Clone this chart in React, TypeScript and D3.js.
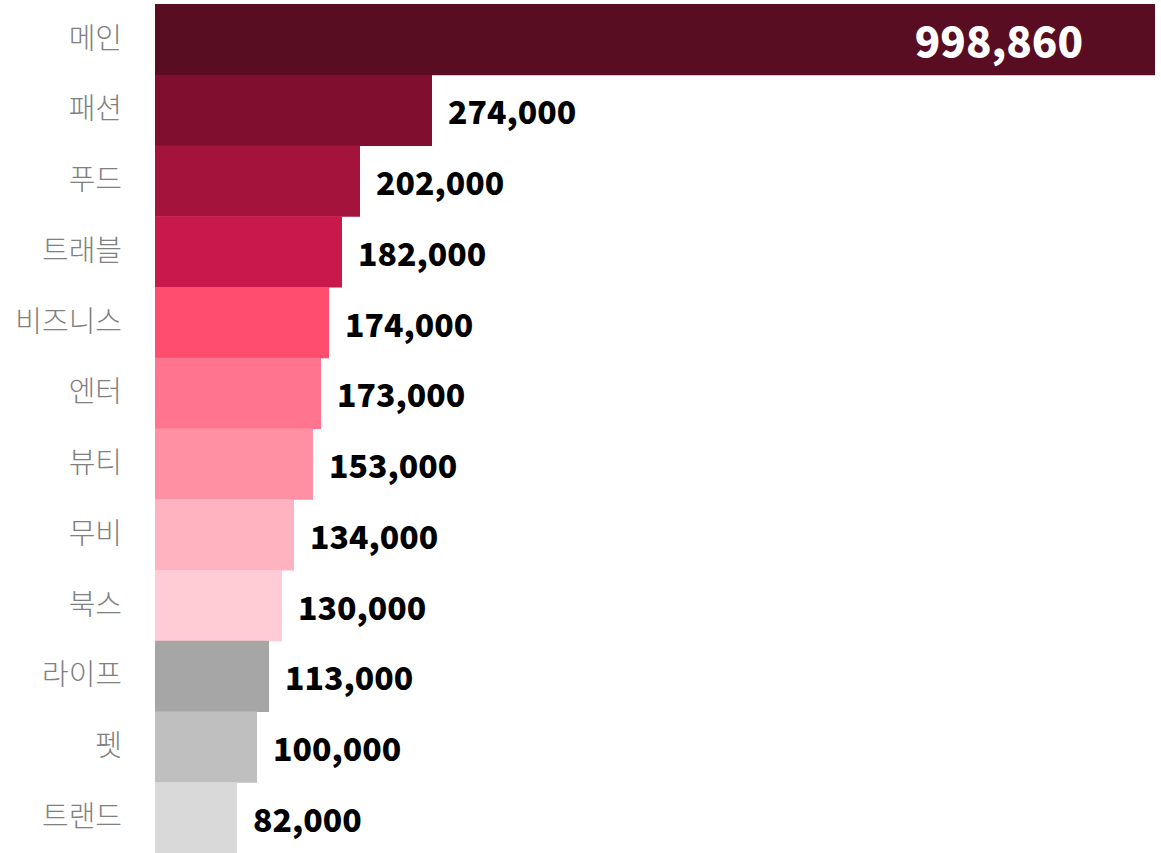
import React, { useEffect, useRef } from "react";
import * as d3 from "d3";

const categories = ["메인", "패션", "푸드", "트래블", "비즈니스", "엔터", "뷰티", "무비", "북스", "라이프", "펫", "트랜드"];
const values = [998860, 274000, 202000, 182000, 174000, 173000, 153000, 134000, 130000, 113000, 100000, 82000];
// bar lengths as drawn in the reference (they differ slightly from the printed labels)
const barValues = [1000000, 277000, 205000, 187000, 174000, 166000, 158000, 139000, 127000, 114000, 102000, 82000];
const colors = ["#590d22", "#800f2f", "#a4133c", "#c9184a", "#ff4d6d", "#ff758f", "#ff8fa3", "#ffb3c1", "#ffccd5", "#a6a6a6", "#bfbfbf", "#d9d9d9"];

const W = 1161;
const H = 853;

export default function App() {
  const ref = useRef<SVGSVGElement>(null);
  useEffect(() => {
    const svg = d3.select(ref.current);
    svg.selectAll("*").remove();
    const x = d3.scaleLinear().domain([0, 1000000]).range([155, 1155]);
    const y = d3.scaleBand<string>().domain(categories).range([4, 853]).padding(0);
    const fmt = d3.format(",");
    const data = categories.map((c, i) => ({ c, v: values[i], b: barValues[i], col: colors[i], i }));

    svg.selectAll("rect.bar").data(data).enter().append("rect")
      .attr("class", "bar")
      .attr("x", x(0))
      .attr("y", (d) => y(d.c)!)
      .attr("width", (d) => x(d.b) - x(0))
      .attr("height", y.bandwidth() + 0.5)
      .attr("fill", (d) => d.col);

    svg.selectAll("text.cat").data(data).enter().append("text")
      .attr("class", "cat")
      .attr("x", 122)
      .attr("y", (d) => y(d.c)! + y.bandwidth() / 2 - 1)
      .attr("dy", "0.35em")
      .attr("text-anchor", "end")
      .attr("font-family", "'Noto Sans CJK KR', 'Noto Sans', sans-serif")
      .attr("font-weight", 200)
      .attr("font-size", 29)
      .attr("fill", "#808080")
      .text((d) => d.c);

    svg.selectAll("text.val").data(data).enter().append("text")
      .attr("class", "val")
      .attr("x", (d) => (d.i === 0 ? x(d.b) - 72 : x(d.b) + 16))
      .attr("y", (d) => y(d.c)! + y.bandwidth() / 2 + 3)
      .attr("dy", "0.35em")
      .attr("text-anchor", (d) => (d.i === 0 ? "end" : "start"))
      .attr("font-family", "'Noto Sans CJK KR', 'Noto Sans', sans-serif")
      .attr("font-weight", 800)
      .attr("font-size", (d) => (d.i === 0 ? 42 : 32))
      .attr("fill", (d) => (d.i === 0 ? "#fff" : "#000"))
      .text((d) => fmt(d.v));
  }, []);
  return (
    <svg
      ref={ref}
      width={W}
      height={H}
      style={{ position: "absolute", left: 0, top: 0, background: "#fff" }}
    />
  );
}
